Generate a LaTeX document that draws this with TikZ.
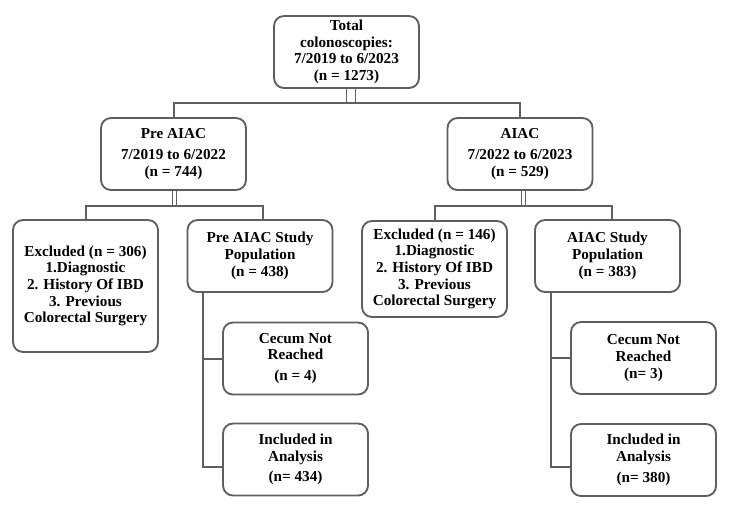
\documentclass[tikz,border=0pt]{standalone}
\usepackage{fontspec}
\setmainfont{Liberation Serif}
\usetikzlibrary{calc}
\definecolor{linegray}{RGB}{95,95,95}
\tikzset{
  box/.style = {draw = linegray, line width = 1.4pt, rounded corners = 7.5pt, fill = white,
    align = center, font = \bfseries\fontsize{11.4}{12.5}\selectfont,
    minimum width = 108.75pt, minimum height = 54pt, inner sep = 2pt},
  link/.style = {draw = linegray, line width = 1.5pt},
  stem/.style = {draw = linegray, double = white, line width = 0.8pt, double distance = #1},
  stem/.default = 2.5pt
}

\begin{document}
\begin{tikzpicture}[x = 0.75pt, y = -0.75pt]
\useasboundingbox (0,0) rectangle (750,507);
% boxes
\node[box](T) at (346.5,52) {Total\\colonoscopies:\\7/2019 to 6/2023\\(n = 1273)};
\node[box](P) at (173.5,154) {Pre AIAC\\[3pt]7/2019 to 6/2022\\(n = 744)};
\node[box](A) at (520,154) {AIAC\\[3pt]7/2022 to 6/2023\\(n = 529)};
\node[box, minimum height = 99pt](E1) at (85.5,286) {Excluded (n = 306)\\1.Diagnostic\\2. History Of IBD\\3. Previous\\Colorectal Surgery};
\node[box](S1) at (260,256) {Pre AIAC Study\\Population\\(n = 438)};
\node[box, minimum height = 72pt](E2) at (434.5,269) {Excluded (n = 146)\\1.Diagnostic\\2. History Of IBD\\3. Previous\\Colorectal Surgery};
\node[box](S2) at (607.5,256) {AIAC Study\\Population\\(n = 383)};
\node[box](C1) at (295.5,358.5) {Cecum Not\\Reached\\[3pt](n = 4)};
\node[box](I1) at (295.5,459.5) {Included in\\Analysis\\[3pt](n= 434)};
\node[box](C2) at (643.5,358) {Cecum Not\\Reached\\(n= 3)};
\node[box](I2) at (643.5,460) {Included in\\Analysis\\[3pt](n= 380)};
% joints
\coordinate(J0)at(351,103);
\coordinate(J1)at(174.5,206);
\coordinate(J2)at(523.5,206);
\coordinate(K1)at(203,292);
\coordinate(K2)at(551,292);
% lines
\path[stem = 6.5pt](J0 |- T.south)to(J0);
\path[link](P.north) -- (P.north |- J0) -| (A.north);
\path[stem](J1 |- P.south)to(J1);
\path[stem](J2 |- A.south)to(J2);
\path[link](E1.north) -- (E1.north |- J1) -| ($(S1.north)+(3,0)$);
\path[link](E2.north) -- (E2.north |- J2) -| ($(S2.north)+(4.5,0)$);
\path[link](K1) |- (C1.west);
\path[link](K1) |- ($(I1.west)+(0,7.5)$);
\path[link](K2) |- (C2.west);
\path[link](K2) |- ($(I2.west)+(0,7)$);
\end{tikzpicture}
\end{document}
